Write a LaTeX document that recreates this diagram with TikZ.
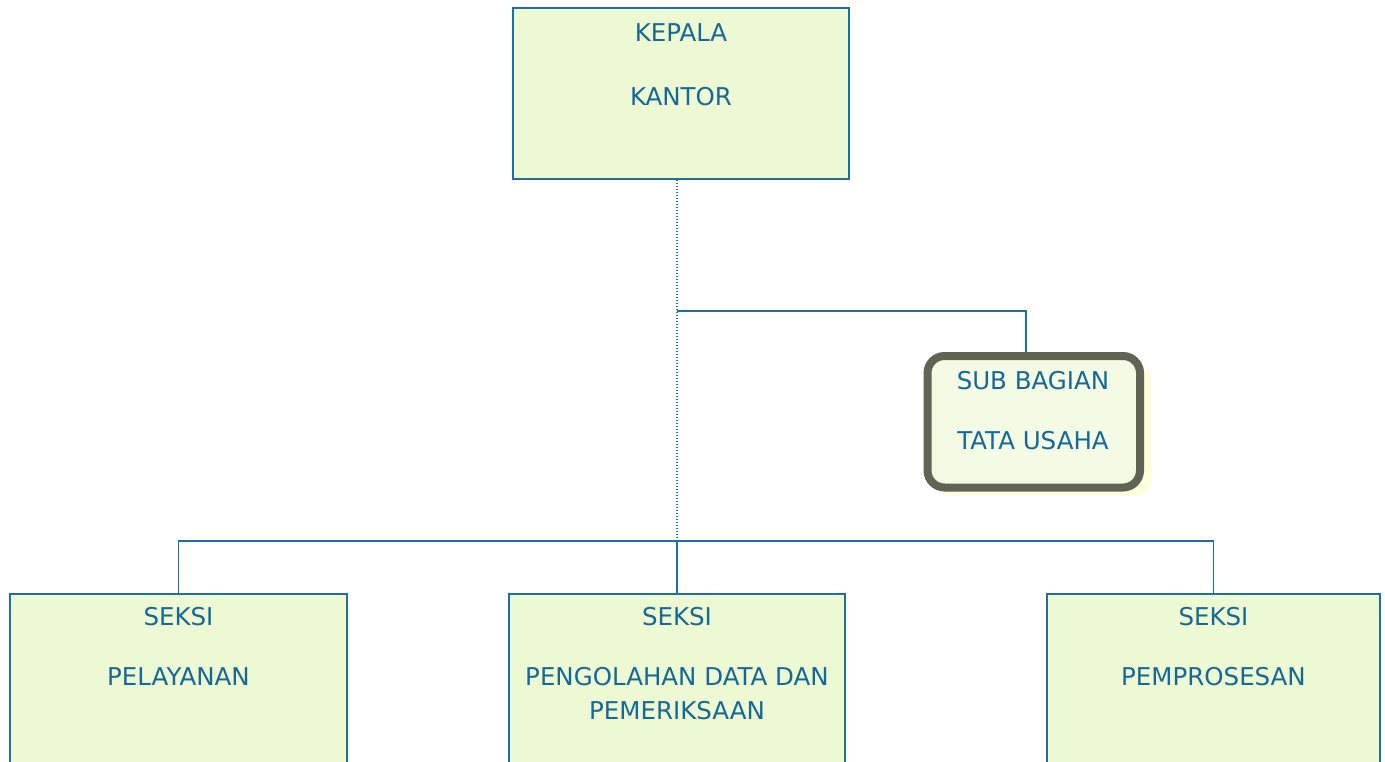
\documentclass[tikz,border=0pt]{standalone}
\usepackage{fontspec}
\setmainfont{DejaVu Sans}
\definecolor{txtblue}{RGB}{22,104,150}
\definecolor{lineblue}{RGB}{31,111,163}
\definecolor{boxfill}{RGB}{237,249,210}
\definecolor{subfill}{RGB}{243,251,229}
\definecolor{subborder}{RGB}{95,100,84}
\definecolor{shadowy}{RGB}{254,255,222}
\begin{document}
\begin{tikzpicture}[x=1pt,y=-1pt,
  box/.style={draw=lineblue,line width=1.8pt,fill=boxfill,rectangle,inner sep=0pt},
  subbox/.style={draw=subborder,line width=8pt,fill=subfill,rectangle,rounded corners=17pt,inner sep=0pt},
  lbl/.style={text=txtblue,font=\fontsize{24.5}{28}\selectfont,inner sep=0pt},
  conn/.style={draw=lineblue,line width=1.8pt},
  dotconn/.style={draw=lineblue,line width=1.8pt,dash pattern=on 1.5pt off 1.5pt}]
\useasboundingbox (0,0) rectangle (1385,761);
\clip (0,0) rectangle (1385,761);
\fill[white] (0,0) rectangle (1385,761);
% shadow of sub box
\fill[shadowy,rounded corners=17pt] (936,364) rectangle (1152,496);
\node[box,minimum width=336pt,minimum height=171pt] (kepala) at (681,93.5) {};
\node[subbox,minimum width=212.5pt,minimum height=131.5pt] (sub) at (1033.75,421.75) {};
\node[box,minimum width=337pt,minimum height=200pt] (pelayanan) at (178.5,694) {};
\node[box,minimum width=336pt,minimum height=200pt] (pengolahan) at (677,694) {};
\node[box,minimum width=333pt,minimum height=200pt] (pemprosesan) at (1213.5,694) {};
% texts
\node[lbl] (kepala1) at (681,33) {KEPALA};
\node[lbl] (kepala2) at (681,97) {KANTOR};
\node[lbl] (sub1) at (1033,381) {SUB BAGIAN};
\node[lbl] (sub2) at (1033,441) {TATA USAHA};
\node[lbl] (pel1) at (178.5,617) {SEKSI};
\node[lbl] (pel2) at (178.5,677) {PELAYANAN};
\node[lbl] (pen1) at (677,617) {SEKSI};
\node[lbl] (pen2) at (677,677) {PENGOLAHAN DATA DAN};
\node[lbl] (pen3) at (677,711) {PEMERIKSAAN};
\node[lbl] (pem1) at (1213.5,617) {SEKSI};
\node[lbl] (pem2) at (1213.5,677) {PEMPROSESAN};
% connectors
\coordinate (jt) at (677,311);
\coordinate (jb) at (677,541);
\coordinate (st) at (1026,311);
\draw[dotconn] (kepala.south -| jt) -- (jb);
\draw[conn] (jt) -- (st) -- (st |- sub.north);
\draw[conn] (pelayanan.north) |- (jb) -| (pemprosesan.north);
\draw[conn] (jb) -- (pengolahan.north);
\end{tikzpicture}
\end{document}
